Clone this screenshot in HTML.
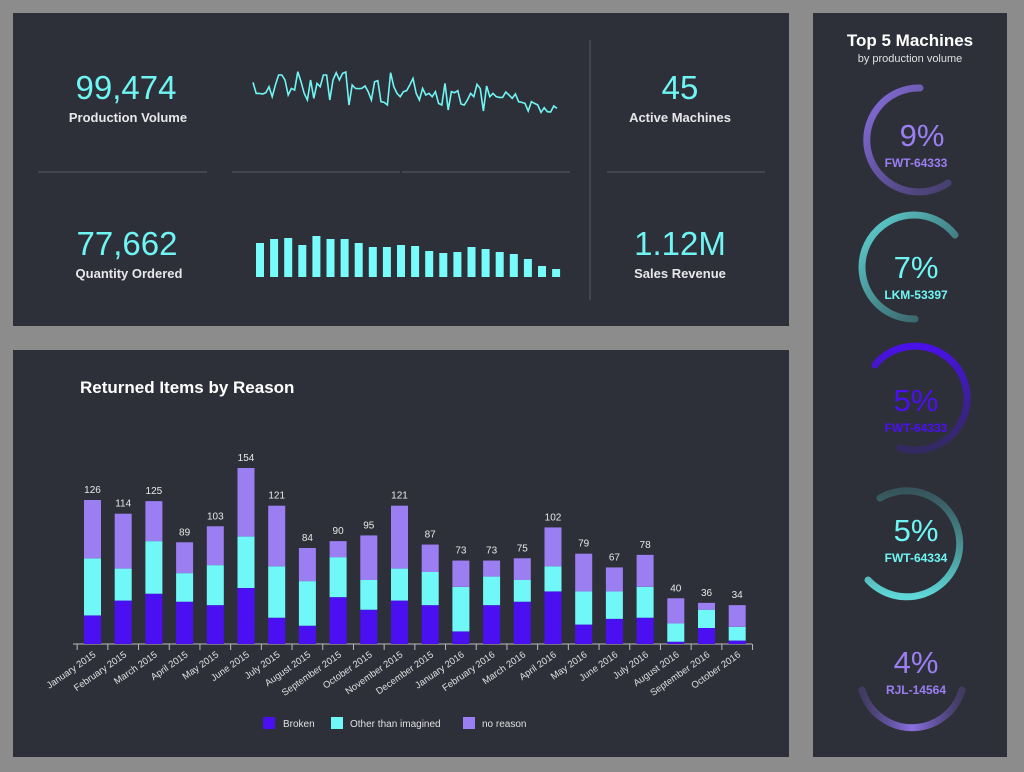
<!DOCTYPE html>
<html><head><meta charset="utf-8"><style>
html,body{margin:0;padding:0;background:#8c8c8c;}
svg{display:block;font-family:"Liberation Sans",sans-serif;}
</style></head><body>
<svg width="1024" height="772" viewBox="0 0 1024 772">
<defs>
<linearGradient id="gP" x1="0" y1="0" x2="1" y2="1"><stop offset="0" stop-color="#8a70e0" stop-opacity="1"/><stop offset="1" stop-color="#6a55b8" stop-opacity="0.4"/></linearGradient>
<linearGradient id="gC" x1="0" y1="0" x2="1" y2="1"><stop offset="0" stop-color="#60d8d8"/><stop offset="1" stop-color="#4aa8a8" stop-opacity="0.3"/></linearGradient>
<linearGradient id="gB" x1="0" y1="0" x2="0" y2="1"><stop offset="0" stop-color="#4a10e8"/><stop offset="1" stop-color="#3a20a0" stop-opacity="0.4"/></linearGradient>
<linearGradient id="gC2" x1="0" y1="0" x2="0" y2="1"><stop offset="0" stop-color="#4aa8a8" stop-opacity="0.3"/><stop offset="1" stop-color="#60d8d8"/></linearGradient>
<linearGradient id="gP2" x1="0" y1="0" x2="1" y2="0"><stop offset="0" stop-color="#6a55b8" stop-opacity="0.3"/><stop offset="0.5" stop-color="#8a70e0"/><stop offset="1" stop-color="#6a55b8" stop-opacity="0.3"/></linearGradient>
</defs>
<rect x="13" y="13" width="776" height="313" fill="#2e3039"/>
<rect x="13" y="350" width="776" height="407" fill="#2e3039"/>
<rect x="813" y="13" width="194" height="744" fill="#2e3039"/>

<g stroke="#4a4c55" stroke-width="1.5">
<line x1="38" y1="172" x2="207" y2="172"/><line x1="232" y1="172" x2="400" y2="172"/><line x1="402" y1="172" x2="570" y2="172"/><line x1="607" y1="172" x2="765" y2="172"/><line x1="590" y1="40" x2="590" y2="300"/>
</g>
<g font-weight="normal" text-anchor="middle">
<text x="126" y="99" font-size="33" fill="#6ff5f3">99,474</text>
<text x="128" y="122" font-size="13" font-weight="bold" fill="#e8e8ea">Production Volume</text>
<text x="127" y="255" font-size="33" fill="#6ff5f3">77,662</text>
<text x="129" y="278" font-size="13" font-weight="bold" fill="#e8e8ea">Quantity Ordered</text>
<text x="680" y="99" font-size="33" fill="#6ff5f3">45</text>
<text x="680" y="122" font-size="13" font-weight="bold" fill="#e8e8ea">Active Machines</text>
<text x="680" y="255" font-size="33" fill="#6ff5f3">1.12M</text>
<text x="680" y="278" font-size="13" font-weight="bold" fill="#e8e8ea">Sales Revenue</text>
</g>
<g id="spark"></g>
<g id="minibars"></g>

<text x="80" y="393" font-size="17" font-weight="bold" fill="#ffffff">Returned Items by Reason</text>
<g id="chart"></g>
<g font-size="10" fill="#e0e0e0">
<g><rect x="263" y="717" width="12" height="12" fill="#4b10f2"/><text x="283" y="727">Broken</text></g>
<g><rect x="331" y="717" width="12" height="12" fill="#70f8f8"/><text x="350" y="727">Other than imagined</text></g>
<g><rect x="463" y="717" width="12" height="12" fill="#9b7ef2"/><text x="482" y="727">no reason</text></g>
</g>

<text x="910" y="46" font-size="17" font-weight="bold" fill="#fff" text-anchor="middle">Top 5 Machines</text>
<text x="910" y="62" font-size="11" fill="#e0e0e0" text-anchor="middle">by production volume</text>
<g fill="none" stroke-width="7" stroke-linecap="round">
<path d="M920 88 A52 52 0 1 0 948 183" stroke="url(#gP)"/>
<path d="M955 235 A52 52 0 1 0 915 319" stroke="url(#gC)"/>
<path d="M875 365 A52 52 0 1 1 900 448" stroke="url(#gB)"/>
<path d="M880 498 A53 53 0 1 1 868 580" stroke="url(#gC2)"/>
<path d="M862 690 A52 52 0 0 0 962 690" stroke="url(#gP2)"/>
</g>
<g text-anchor="middle">
<text x="922" y="146" font-size="31" fill="#9b7ef2">9%</text>
<text x="916" y="167" font-size="12" font-weight="bold" fill="#9b7ef2">FWT-64333</text>
<text x="916" y="278" font-size="31" fill="#6ff5f3">7%</text>
<text x="916" y="299" font-size="12" font-weight="bold" fill="#6ff5f3">LKM-53397</text>
<text x="916" y="411" font-size="31" fill="#4b10f2">5%</text>
<text x="916" y="432" font-size="12" font-weight="bold" fill="#4b10f2">FWT-64333</text>
<text x="916" y="541" font-size="31" fill="#6ff5f3">5%</text>
<text x="916" y="562" font-size="12" font-weight="bold" fill="#6ff5f3">FWT-64334</text>
<text x="916" y="673" font-size="31" fill="#9b7ef2">4%</text>
<text x="916" y="694" font-size="12" font-weight="bold" fill="#9b7ef2">RJL-14564</text>
</g>
</svg>
<script>
const months = ["January 2015","February 2015","March 2015","April 2015","May 2015","June 2015","July 2015","August 2015","September 2015","October 2015","November 2015","December 2015","January 2016","February 2016","March 2016","April 2016","May 2016","June 2016","July 2016","August 2016","September 2016","October 2016"];
const broken = [25,38,44,37,34,49,23,16,41,30,38,34,11,34,37,46,17,22,23,2,14,3];
const other = [50,28,46,25,35,45,45,39,35,26,28,29,39,25,19,22,29,24,27,16,16,12];
const noReason = [51,48,35,27,34,60,53,29,14,39,55,24,23,14,19,34,33,21,28,22,6,19];
const totals = [126,114,125,89,103,154,121,84,90,95,121,87,73,73,75,102,79,67,78,40,36,34];
const sparkValues = [103,70,70,68,72,90,60,95,125,125,110,65,85,80,135,105,70,50,110,55,100,90,125,125,50,110,132,110,130,134,35,95,85,84,85,92,75,50,105,108,45,43,35,132,90,70,60,75,78,95,115,70,50,85,65,70,60,75,40,35,100,20,75,72,78,38,35,50,70,60,97,85,17,92,60,70,60,58,58,74,65,55,68,45,43,40,17,45,40,35,13,27,15,14,32,25];
const miniBars = [34,38,39,32,41,38,38,34,30,30,32,31,26,24,25,30,28,25,23,18,11,8];

const NS="http://www.w3.org/2000/svg";
function mk(tag,attrs,parent){const e=document.createElementNS(NS,tag);for(const k in attrs)e.setAttribute(k,attrs[k]);parent.appendChild(e);return e;}

// main chart
const chart=document.getElementById('chart');
const x0=92.5, step=30.7, bw=17, base=644;
const yS=v=>v*176/154;
const xS=i=>x0+i*step;
mk('line',{x1:73,y1:base,x2:752,y2:base,stroke:'#bbb','stroke-width':1},chart);
for(let i=0;i<=months.length;i++){const tx=xS(i)-step/2;const t=mk('line',{x1:tx,y1:base,x2:tx,y2:base+6,stroke:'#bbb','stroke-width':1},chart);

}
months.forEach((m,i)=>{
  const cx=xS(i);let y=base;
  [[broken[i],'#4b10f2','broken'],[other[i],'#70f8f8','other'],[noReason[i],'#9b7ef2','no-reason']].forEach(([v,c,n])=>{
    const h=yS(v);y-=h;
    const r=mk('rect',{x:cx-bw/2,y:y,width:bw,height:h,fill:c},chart);
    
    
  });
  const lbl=mk('text',{x:cx,y:base-yS(totals[i])-7,'font-size':10,fill:'#e8e8e8','text-anchor':'middle'},chart);
  lbl.textContent=totals[i];
  
  
  const xl=mk('text',{x:cx+4,y:base+12,'font-size':9.5,fill:'#e0e0e0','text-anchor':'end',transform:`rotate(-35 ${cx+4} ${base+12})`},chart);
  xl.textContent=m;
  
  
});

// sparkline
const sp=document.getElementById('spark');
const sx=i=>253+i*(557-253)/(sparkValues.length-1);
const sy=v=>116.7-v/3;
const pl=mk('polyline',{points:sparkValues.map((v,i)=>sx(i).toFixed(1)+','+sy(v).toFixed(1)).join(' '),fill:'none',stroke:'#6ff5f3','stroke-width':1.6},sp);



// mini bars
const mb=document.getElementById('minibars');
miniBars.forEach((v,i)=>{
  const r=mk('rect',{x:256+i*14.1,y:277-v,width:8,height:v,fill:'#78fbfb'},mb);
  
  
});
</script>
</body></html>
